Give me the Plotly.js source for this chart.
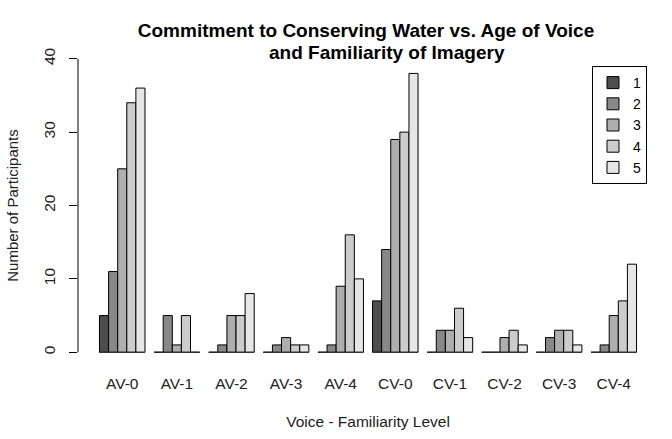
<!DOCTYPE html>
<html>
<head>
<meta charset="utf-8">
<script src="https://cdn.plot.ly/plotly-3.0.1.min.js"></script>
<style>html,body{margin:0;padding:0;background:#fff;}#chart{width:672px;height:439px;}</style>
</head>
<body>
<div id="chart"></div>
<script>
const categories = ["AV-0","AV-1","AV-2","AV-3","AV-4","CV-0","CV-1","CV-2","CV-3","CV-4"];
const levels = ["1","2","3","4","5"];
const level1 = [5, 0, 0, 0, 0, 7, 0, 0, 0, 0];
const level2 = [11, 5, 1, 1, 1, 14, 3, 0, 2, 1];
const level3 = [25, 1, 5, 2, 9, 29, 3, 2, 3, 5];
const level4 = [34, 5, 5, 1, 16, 30, 6, 3, 3, 7];
const level5 = [36, 0, 8, 1, 10, 38, 2, 1, 1, 12];
const yTicks = [0, 10, 20, 30, 40];
const titleLine1 = "Commitment to Conserving Water vs. Age of Voice";
const titleLine2 = "and Familiarity of Imagery";
const series = [level1, level2, level3, level4, level5];
const colors = ["#4D4D4D", "#888888", "#AEAEAE", "#CCCCCC", "#E6E6E6"];

const xIdx = categories.map((c, i) => i);
const groupHalf = 5 / 12;

const traces = series.map((vals, k) => ({
  type: "bar",
  name: levels[k],
  x: xIdx,
  y: vals,
  marker: { color: colors[k], line: { color: "#000", width: 1 } },
  hoverinfo: "y"
}));

// baseline under each group (R draws zero-height bars as a line)
const bx = [], by = [];
xIdx.forEach(i => { bx.push(i - groupHalf, i + groupHalf, null); by.push(0, 0, null); });
traces.push({
  type: "scatter", mode: "lines", x: bx, y: by, showlegend: false,
  line: { color: "#333", width: 1 }, hoverinfo: "skip"
});

const font = "Liberation Sans, Arial, sans-serif";
const layout = {
  width: 672, height: 439,
  margin: { l: 78, r: 14, t: 47, b: 75 },
  paper_bgcolor: "#fff", plot_bgcolor: "#fff",
  font: { family: font, color: "#000", size: 15 },
  barmode: "group", bargap: 1 / 6, bargroupgap: 0,
  title: {
    text: "<b>" + titleLine1 + "</b>",
    font: { family: font, size: 19, color: "#000" },
    x: 366 / 672, xanchor: "center", y: 1 - 37 / 439, yanchor: "bottom", yref: "container"
  },
  annotations: [{
    text: "<b>" + titleLine2 + "</b>", showarrow: false,
    xref: "paper", yref: "paper", x: (387 - 78) / 580, xanchor: "center",
    y: 1 + (47 - 65) / 317, yanchor: "bottom",
    font: { family: font, size: 19, color: "#000" }
  }],
  xaxis: {
    type: "linear", range: [-0.81, 9.81],
    tickvals: xIdx, ticktext: categories,
    showline: false, showgrid: false, zeroline: false, ticks: "",
    tickfont: { family: font, size: 15.5, color: "#222" },
    ticklabelstandoff: 8,
    title: { text: "Voice - Familiarity Level", font: { family: font, size: 15.5, color: "#222" }, standoff: 25 }
  },
  yaxis: {
    range: [-1.6, 41.6], tickvals: yTicks,
    tickangle: -90, showline: false, showgrid: false, zeroline: false,
    ticks: "outside", ticklen: 8, tickcolor: "#000", tickwidth: 1,
    tickfont: { family: font, size: 15.5, color: "#222" },
    ticklabelstandoff: 8,
    title: { text: "Number of Participants", font: { family: font, size: 15, color: "#222" }, standoff: 18 }
  },
  shapes: [{
    type: "line", xref: "paper", yref: "y", x0: 0, x1: 0, y0: 0, y1: 40,
    line: { color: "#000", width: 1 }
  }],
  legend: {
    x: (592 - 78) / 580, xanchor: "left", y: 1 - (66 - 47) / 317, yanchor: "top",
    bordercolor: "#000", borderwidth: 1, bgcolor: "#fff",
    font: { family: font, size: 14, color: "#000" },
    traceorder: "normal", itemwidth: 30
  },
  showlegend: true
};

Plotly.newPlot("chart", traces, layout, { displayModeBar: false, staticPlot: true });
</script>
</body>
</html>
